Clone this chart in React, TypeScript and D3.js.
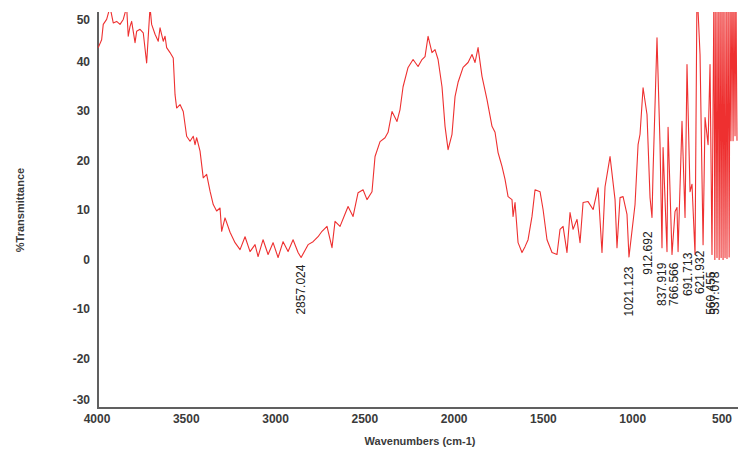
import React from 'react';
import * as d3 from 'd3';

// FTIR spectrum: wavenumber (cm-1) and %T
const wavenumbers = [
  3993, 3974, 3965, 3946, 3927, 3909, 3890, 3871, 3853, 3834, 3825, 3815, 3806, 3787, 3778, 3759,
  3741, 3722, 3703, 3694, 3675, 3657, 3647, 3629, 3619, 3610, 3591, 3573, 3563, 3554, 3535, 3517,
  3498, 3479, 3461, 3451, 3442, 3423, 3405, 3386, 3367, 3349, 3330, 3311, 3302, 3283, 3255, 3227,
  3199, 3171, 3143, 3115, 3098, 3070, 3042, 3014, 2986, 2958, 2930, 2902, 2874, 2857, 2818, 2790,
  2762, 2740, 2712, 2684, 2667, 2639, 2611, 2594, 2566, 2538, 2510, 2488, 2460, 2443, 2415, 2387,
  2370, 2348, 2320, 2303, 2286, 2258, 2230, 2202, 2180, 2163, 2146, 2124, 2107, 2090, 2068, 2051,
  2034, 2012, 1995, 1978, 1950, 1922, 1900, 1883, 1866, 1844, 1816, 1788, 1771, 1754, 1743, 1732,
  1715, 1698, 1676, 1670, 1659, 1642, 1620, 1603, 1586, 1564, 1547, 1519, 1502, 1480, 1452, 1424,
  1407, 1390, 1368, 1351, 1334, 1312, 1295, 1278, 1250, 1222, 1194, 1172, 1155, 1127, 1099, 1088,
  1071, 1054, 1032, 1021, 987, 970, 959, 942, 920, 903, 892, 886, 864, 847, 836, 830,
  808, 802, 780, 763, 752, 746, 724, 707, 696, 679, 668, 651, 640, 623, 606, 595,
  578, 567, 556, 550, 545, 540, 534, 528, 522, 516, 511, 505, 500, 494, 489, 483,
  477, 472, 466, 460, 455, 450, 444, 438, 433, 427, 422, 416,
];
const transmittance = [
  42.8, 44.4, 47.5, 48.5, 51, 47.8, 48.1, 47.5, 48.5, 51, 45.1, 47.1, 48.1, 43.8, 46.1, 46.5,
  45.8, 39.7, 51, 47.5, 45.5, 44.1, 46.8, 44.1, 45.1, 42.8, 41.8, 40.7, 33.3, 30.6, 31.3, 29.9,
  24.9, 23.9, 24.9, 23.2, 24.6, 21.9, 16.5, 17.2, 13.8, 11.1, 9.8, 10.4, 5.7, 8.4, 5.5, 3.4,
  2.0, 4.6, 1.6, 3.0, 0.6, 4.0, 1.0, 3.4, 0.4, 3.6, 1.6, 4.0, 1.4, 0.4, 3.0, 3.6,
  4.6, 5.7, 6.7, 2.4, 7.7, 6.7, 9.2, 10.7, 8.7, 13.5, 14.1, 12.1, 13.7, 20.8, 23.8, 24.6,
  25.7, 29.9, 27.9, 30.3, 34.9, 38.8, 40.4, 39.0, 40.4, 41.0, 45.1, 41.8, 42.4, 40.4, 34.9, 26.9,
  22.2, 25.3, 32.9, 35.8, 38.8, 39.8, 41.4, 39.8, 42.8, 37.0, 32.3, 26.9, 25.7, 21.6, 20.2, 18.8,
  16.2, 12.7, 12.1, 8.7, 11.5, 3.4, 1.4, 2.6, 4.0, 8.7, 14.1, 13.7, 10.1, 4.0, 1.4, 1.0,
  6.1, 6.7, 1.4, 9.5, 6.1, 8.1, 3.4, 11.5, 11.7, 10.1, 14.5, 1.4, 14.7, 20.8, 12.1, 2.4,
  12.5, 12.7, 9.1, 0.5, 11.1, 23.2, 25.3, 34.7, 29.3, 12.5, 8.5, 17.8, 44.8, 23.2, 2.4, 22.6,
  1.6, 26.7, 1.0, 9.7, 10.5, 1.6, 27.9, 8.5, 39.4, 13.7, 15.2, 1.0, 55, 41.4, 3.0, 28.7,
  23.2, 39.4, 1.0, 31, 55, 0, 55, 0.4, 55, 0, 55, 0.4, 55, 0, 55, 0.4,
  55, 0.2, 55, 0.5, 55, 24, 55, 24, 55, 25, 55, 24,
];

// labelled peaks
const peakLabels = ['2857.024', '1021.123', '912.692', '837.919', '766.566', '691.713', '621.932', '560.455', '537.078'];
const peakWn = [2857.024, 1021.123, 912.692, 837.919, 766.566, 691.713, 621.932, 560.455, 537.078];
const peakT = [0.6, 0.2, 7.3, 1.0, 1.0, 3.0, 3.4, -0.8, -0.8];

const xTicks = [4000, 3500, 3000, 2500, 2000, 1500, 1000, 500];
const yTicks = [50, 40, 30, 20, 10, 0, -10, -20, -30];

const width = 738;
const height = 452;
const margin = { top: 12, right: 1, bottom: 44, left: 97 };

const App = () => {
  const x = d3.scaleLinear()
    .domain([4000, 416])
    .range([margin.left, width - margin.right]);
  const y = d3.scaleLinear()
    .domain([-30, 50])
    .range([height - margin.bottom, margin.top]);

  const points = wavenumbers.map((w, i) => [w, transmittance[i]] as [number, number]);
  const line = d3.line<[number, number]>()
    .x(d => x(d[0]))
    .y(d => y(d[1]));

  const axisColor = '#606060';
  const textColor = '#3a3a3a';
  const font = '"Liberation Sans", Arial, sans-serif';
  const plotBottom = height - margin.bottom;

  return (
    <svg width={width} height={height} style={{ position: 'absolute', left: 0, top: 0, display: 'block', background: '#fff' }}
      fontFamily={font}>
      <defs>
        <clipPath id="plot">
          <rect x={margin.left} y={margin.top} width={width - margin.left} height={plotBottom - margin.top} />
        </clipPath>
      </defs>

      {/* y axis */}
      <line x1={margin.left + 1} x2={margin.left + 1} y1={margin.top} y2={plotBottom} stroke={axisColor} strokeWidth={2} />
      {yTicks.map(t => (
        <text key={t} x={90} y={Math.min(Math.max(y(t), 20), 400)} textAnchor="end" dominantBaseline="central"
          fontSize={12} fontWeight="bold" fill={textColor}>{t}</text>
      ))}
      <text transform={`translate(20, 210) rotate(-90)`} textAnchor="middle" dominantBaseline="central"
        fontSize={11} fontWeight="bold" fill={textColor}>%Transmittance</text>

      {/* x axis */}
      <line x1={margin.left} x2={width} y1={plotBottom} y2={plotBottom} stroke={axisColor} strokeWidth={2} />
      {xTicks.map(t => (
        <text key={t} x={Math.min(x(t), 724)} y={419} textAnchor="middle" dominantBaseline="central"
          fontSize={12} fontWeight="bold" fill={textColor}>{t}</text>
      ))}
      <text x={420} y={441} textAnchor="middle" dominantBaseline="central"
        fontSize={11} fontWeight="bold" fill={textColor}>Wavenumbers (cm-1)</text>

      {/* spectrum */}
      <g clipPath="url(#plot)">
        <path d={line(points) ?? ''} fill="none" stroke="#ee3030" strokeWidth={1.1} strokeLinejoin="round" />
      </g>

      {/* peak labels */}
      {peakLabels.map((lab, i) => (
        <text key={lab} transform={`translate(${x(peakWn[i])}, ${y(peakT[i]) + 8}) rotate(-90)`}
          textAnchor="end" dominantBaseline="central" fontSize={12} fill="#222">{lab}</text>
      ))}
    </svg>
  );
};

export default App;
